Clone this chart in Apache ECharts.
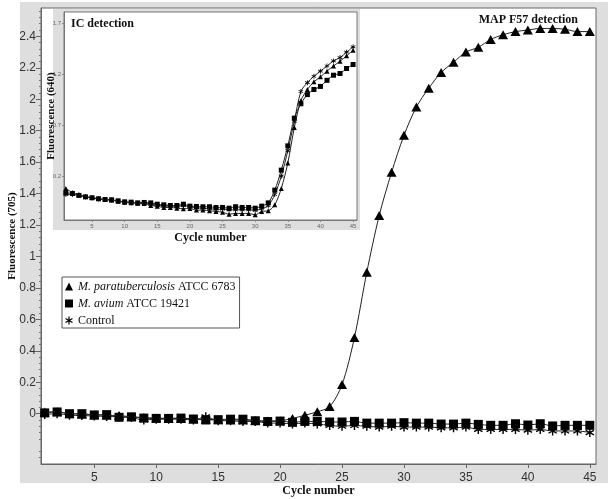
<!DOCTYPE html>
<html>
<head>
<meta charset="utf-8">
<script src="https://cdn.jsdelivr.net/npm/echarts@6/dist/echarts.min.js"></script>
<style>
  html, body { margin: 0; padding: 0; background: #fff; }
  #chart { width: 608px; height: 499px; }
</style>
</head>
<body>
<div id="chart"></div>
<script>
// cycle numbers (x)
var cycles = [1,2,3,4,5,6,7,8,9,10,11,12,13,14,15,16,17,18,19,20,21,22,23,24,25,26,27,28,29,30,31,32,33,34,35,36,37,38,39,40,41,42,43,44,45]

var seriesNames = ['M. paratuberculosis ATCC 6783', 'M. avium ATCC 19421', 'Control']

// main chart: MAP F57 detection, Fluorescence (705)
var mapPara = [0.01,0.012,0.0,-0.004,-0.008,-0.01,-0.012,-0.02,-0.025,-0.028,
  -0.03,-0.03,-0.034,-0.036,-0.038,-0.04,-0.04,-0.044,-0.046,-0.045,
  -0.03,-0.01,0.012,0.045,0.185,0.484,0.90,1.26,1.535,1.77,
  1.95,2.07,2.17,2.235,2.30,2.33,2.38,2.41,2.43,2.44,
  2.45,2.45,2.445,2.43,2.43]
var mapAvium = [0.005,0.011,0.0,0.0,-0.008,-0.006,-0.023,-0.02,-0.028,-0.03,
  -0.03,-0.028,-0.034,-0.04,-0.038,-0.035,-0.035,-0.045,-0.05,-0.047,
  -0.055,-0.049,-0.049,-0.053,-0.053,-0.049,-0.06,-0.06,-0.06,-0.057,
  -0.06,-0.06,-0.066,-0.066,-0.06,-0.068,-0.074,-0.074,-0.064,-0.072,
  -0.064,-0.078,-0.074,-0.074,-0.074]
var mapControl = [-0.005,0.0,-0.01,-0.012,-0.015,-0.018,-0.02,-0.025,-0.04,-0.035,
  -0.035,-0.035,-0.04,-0.02,-0.045,-0.045,-0.05,-0.05,-0.06,-0.06,
  -0.065,-0.06,-0.065,-0.075,-0.08,-0.075,-0.08,-0.085,-0.08,-0.085,
  -0.085,-0.085,-0.09,-0.09,-0.085,-0.1,-0.1,-0.1,-0.1,-0.105,
  -0.1,-0.11,-0.11,-0.11,-0.12]

// inset: IC detection, Fluorescence (640)
var icPara = [0.079,0.04,0.02,0.0,-0.01,-0.02,-0.03,-0.035,-0.045,-0.055,
  -0.06,-0.065,-0.068,-0.088,-0.094,-0.107,-0.107,-0.114,-0.12,-0.117,
  -0.133,-0.133,-0.14,-0.146,-0.153,-0.173,-0.166,-0.166,-0.166,-0.179,
  -0.146,-0.14,-0.081,0.079,0.33,0.677,0.94,1.05,1.125,1.174,
  1.23,1.28,1.327,1.38,1.435]
var icAvium = [0.036,0.03,0.011,-0.003,-0.012,-0.022,-0.029,-0.032,-0.042,-0.052,
  -0.055,-0.062,-0.058,-0.062,-0.075,-0.081,-0.088,-0.088,-0.075,-0.094,
  -0.097,-0.1,-0.1,-0.107,-0.107,-0.114,-0.1,-0.107,-0.107,-0.114,
  -0.094,-0.062,0.063,0.259,0.497,0.769,0.91,1.0,1.05,1.08,
  1.14,1.19,1.207,1.256,1.295]
var icControl = [0.02,0.02,0.01,-0.005,-0.015,-0.025,-0.03,-0.035,-0.045,-0.055,
  -0.06,-0.065,-0.065,-0.075,-0.085,-0.09,-0.095,-0.095,-0.09,-0.1,
  -0.11,-0.115,-0.12,-0.125,-0.125,-0.13,-0.13,-0.13,-0.13,-0.135,
  -0.12,-0.09,0.02,0.2,0.45,0.74,1.03,1.117,1.18,1.23,
  1.28,1.33,1.363,1.416,1.468]

// tick labels
var xTicks = [5,10,15,20,25,30,35,40,45]
var yTicks = [0,0.2,0.4,0.6,0.8,1,1.2,1.4,1.6,1.8,2,2.2,2.4]
var insetYTicks = [0.2,0.7,1.2,1.7]

var serif = 'Liberation Serif'
var sans = 'Liberation Sans'
var asterisk = 'path://M0.85,0L1.15,0L1.15,2L0.85,2Z M1.791,0.37L1.941,0.63L0.209,1.63L0.059,1.37Z M0.059,0.63L0.209,0.37L1.941,1.37L1.791,1.63Z'

function pairs(vals) {
  return cycles.map(function (c, i) { return [c, vals[i]] })
}

// minor ticks on main y axis, 4 between every label
var yMinor = []
for (var k = -7; k <= 64; k++) {
  if (k % 5 !== 0) yMinor.push(+(k * 0.04).toFixed(2))
}

var chart = echarts.init(document.getElementById('chart'))

function lineSeries(name, vals, symbol, size, xi, yi, z) {
  return {
    name: name,
    type: 'line',
    xAxisIndex: xi,
    yAxisIndex: yi,
    data: pairs(vals),
    symbol: symbol,
    symbolSize: size,
    smooth: 0.3,
    z: z,
    itemStyle: { color: '#000' },
    lineStyle: { color: '#222', width: 1 },
    emphasis: { disabled: true }
  }
}

var nameFont = { fontFamily: serif, fontWeight: 'bold', fontSize: 12, color: '#111' }

var option = {
  animation: false,
  graphic: [
    { type: 'rect', z: -10, shape: { x: 20, y: 2, width: 588, height: 481 }, style: { fill: '#dedede' } },
    { type: 'rect', z: 1, shape: { x: 53, y: 9, width: 307, height: 221 }, style: { fill: '#dedede' } }
  ],
  title: [
    { text: 'MAP F57 detection', right: 25, top: 9, z: 6,
      textStyle: { fontFamily: serif, fontWeight: 'bold', fontSize: 12, color: '#111' } },
    { text: 'IC detection', left: 66, top: 13, z: 6,
      textStyle: { fontFamily: serif, fontWeight: 'bold', fontSize: 12, color: '#111' } }
  ],
  legend: {
    orient: 'vertical',
    left: 62, top: 277,
    padding: [3, 4, 1, 3],
    itemWidth: 8, itemHeight: 8, itemGap: 4,
    backgroundColor: '#fff',
    borderColor: '#555', borderWidth: 1,
    data: [
      { name: seriesNames[0], icon: 'triangle' },
      { name: seriesNames[1], icon: 'rect' },
      { name: seriesNames[2], icon: asterisk }
    ],
    formatter: function (name) {
      var p = name.indexOf(' ATCC')
      if (p > 0) return '{i|' + name.slice(0, p) + '}' + name.slice(p)
      return name
    },
    textStyle: {
      fontFamily: serif, fontSize: 12, color: '#111', lineHeight: 13,
      rich: { i: { fontFamily: serif, fontSize: 12, fontStyle: 'italic', color: '#111' } }
    }
  },
  grid: [
    { left: 41, top: 8, right: 12, bottom: 35, outerBoundsMode: 'none', show: true, backgroundColor: '#fff', borderColor: '#666', borderWidth: 1, z: 0 },
    { left: 64, top: 12, width: 293, height: 208, outerBoundsMode: 'none', show: true, backgroundColor: '#fff', borderColor: '#777', borderWidth: 1, z: 2 }
  ],
  xAxis: [
    {
      type: 'value', gridIndex: 0, min: 0.7, max: 45.5,
      name: 'Cycle number', nameLocation: 'middle', nameGap: 21, nameMoveOverlap: false,
      nameTextStyle: nameFont,
      axisLine: { show: true, onZero: false, lineStyle: { color: '#666' } },
      axisTick: { show: true, length: 4, customValues: xTicks, lineStyle: { color: '#666' } },
      axisLabel: { customValues: xTicks, fontFamily: sans, fontSize: 12, color: '#333', margin: 8 },
      splitLine: { show: false }
    },
    {
      type: 'value', gridIndex: 1, min: 0.71, max: 45.6, z: 3,
      name: 'Cycle number', nameLocation: 'middle', nameGap: 12, nameMoveOverlap: false,
      nameTextStyle: nameFont,
      axisLine: { show: true, onZero: false, lineStyle: { color: '#777' } },
      axisTick: { show: true, length: 2, customValues: xTicks, lineStyle: { color: '#888' } },
      axisLabel: { customValues: xTicks, fontFamily: sans, fontSize: 6, color: '#666', margin: 3 },
      splitLine: { show: false }
    }
  ],
  yAxis: [
    {
      type: 'value', gridIndex: 0, min: -0.32, max: 2.58,
      name: 'Fluorescence (705)', nameLocation: 'middle', nameGap: 23, nameRotate: 90, nameMoveOverlap: false,
      nameTextStyle: { fontFamily: serif, fontWeight: 'bold', fontSize: 11, color: '#111' },
      axisLine: { show: true, onZero: false, lineStyle: { color: '#666' } },
      axisTick: { show: true, length: 5, customValues: yTicks, lineStyle: { color: '#666' } },
      axisLabel: { customValues: yTicks, fontFamily: sans, fontSize: 12, color: '#333', margin: 5 },
      splitLine: { show: false }
    },
    {
      type: 'value', gridIndex: 0, min: -0.32, max: 2.58, position: 'left',
      axisLine: { show: false, onZero: false },
      axisTick: { show: true, length: 2, customValues: yMinor, lineStyle: { color: '#777' } },
      axisLabel: { show: false },
      splitLine: { show: false }
    },
    {
      type: 'value', gridIndex: 1, min: -0.23, max: 1.81, z: 3,
      name: 'Fluorescence (640)', nameLocation: 'middle', nameGap: 7, nameRotate: 90, nameMoveOverlap: false,
      nameTextStyle: { fontFamily: serif, fontWeight: 'bold', fontSize: 11, color: '#111' },
      axisLine: { show: true, onZero: false, lineStyle: { color: '#777' } },
      axisTick: { show: true, length: 2, customValues: insetYTicks, lineStyle: { color: '#888' } },
      axisLabel: { customValues: insetYTicks, fontFamily: sans, fontSize: 6, color: '#666', margin: 3 },
      splitLine: { show: false }
    }
  ],
  series: [
    lineSeries(seriesNames[2], mapControl, asterisk, 9, 0, 0, 2),
    lineSeries(seriesNames[1], mapAvium, 'rect', 9, 0, 0, 3),
    lineSeries(seriesNames[0], mapPara, 'triangle', [10, 9], 0, 0, 4),
    lineSeries(seriesNames[2], icControl, asterisk, 5, 1, 2, 5),
    lineSeries(seriesNames[1], icAvium, 'rect', 5, 1, 2, 6),
    lineSeries(seriesNames[0], icPara, 'triangle', [5, 5], 1, 2, 7)
  ]
}

chart.setOption(option)
</script>
</body>
</html>
